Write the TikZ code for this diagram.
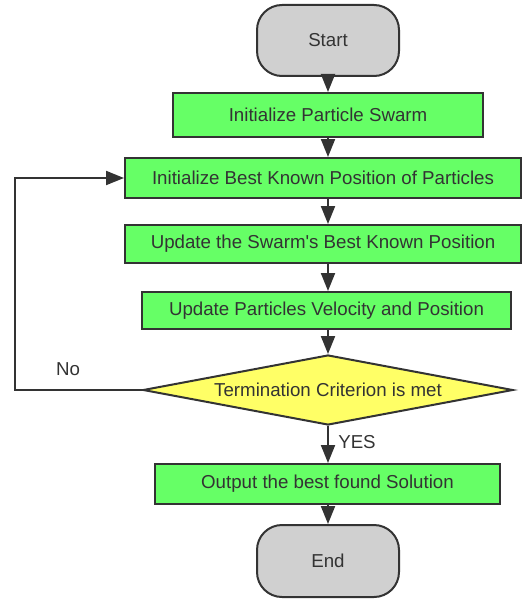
\documentclass[tikz,border=0pt]{standalone}
\usepackage{fontspec}
\setmainfont{Liberation Sans}
\usetikzlibrary{shapes.geometric,arrows.meta}
\definecolor{edge}{HTML}{333333}
\definecolor{boxgreen}{HTML}{66FF66}
\definecolor{termgray}{HTML}{D0D0D0}
\definecolor{decyellow}{HTML}{FFFF66}
\begin{document}
\begin{tikzpicture}[x=1pt,y=-1pt,
  every node/.style={font=\fontsize{18.7}{22}\selectfont, text=edge},
  procbox/.style={draw=edge, line width=2pt, fill=boxgreen, inner sep=0pt},
  termbox/.style={draw=edge, line width=2pt, fill=termgray, rounded corners=25pt,
    minimum width=142pt, minimum height=71pt, inner sep=0pt},
  decbox/.style={draw=edge, line width=2pt, fill=decyellow, shape=diamond, aspect=5.29,
    minimum width=370pt, minimum height=70pt, inner sep=0pt},
  flow/.style={draw=edge, line width=2pt, -{Triangle[length=18pt,width=14pt]}},
  lbl/.style={text=edge}]
\useasboundingbox (0,0) rectangle (522,599);
\node[termbox] (start) at (328,40.5) {Start};
\node[procbox, minimum width=310pt, minimum height=44pt] (init) at (328,115) {Initialize Particle Swarm};
\node[procbox, minimum width=396pt, minimum height=40pt] (best) at (323,178) {Initialize Best Known Position of Particles};
\node[procbox, minimum width=396pt, minimum height=38pt] (swarm) at (323,244) {Update the Swarm\textquotesingle s Best Known Position};
\node[procbox, minimum width=369pt, minimum height=37pt] (vel) at (326.5,310.5) {Update Particles Velocity and Position};
\node[decbox] (dec) at (328,390) {Termination Criterion is met};
\node[procbox, minimum width=345pt, minimum height=40pt] (out) at (327.5,484) {Output the best found Solution};
\node[termbox, minimum height=72pt] (end) at (328,561) {End};
\coordinate (loopbot) at (15,390);
\draw[flow] (start.south) -- (init.north);
\draw[flow] (init.south) -- (init.south |- best.north);
\draw[flow] (init.south |- best.south) -- (init.south |- swarm.north);
\draw[flow] (init.south |- swarm.south) -- (init.south |- vel.north);
\draw[flow] (init.south |- vel.south) -- (dec.north);
\draw[flow] (dec.south) -- (dec.south |- out.north);
\draw[flow] (dec.south |- out.south) -- (end.north);
\draw[flow] (dec.west) -- (loopbot) |- (best.west);
\node[lbl] (no) at (68,369) {No};
\node[lbl] (yes) at (357,442) {YES};
\end{tikzpicture}
\end{document}
